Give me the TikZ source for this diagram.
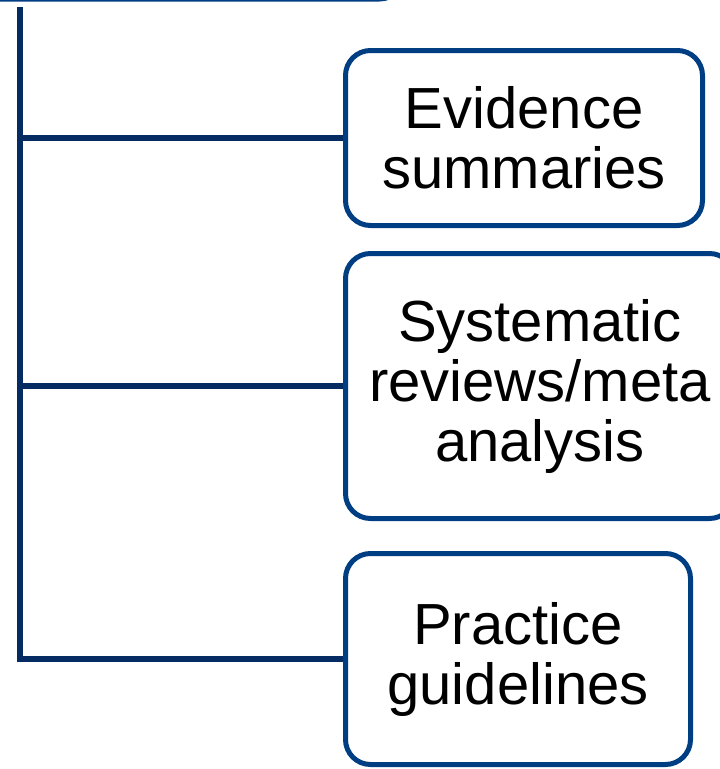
\documentclass[tikz,border=0pt]{standalone}
\usepackage{fontspec}
\setmainfont{Liberation Sans}
\definecolor{navy}{RGB}{0,62,132}
\definecolor{darknavy}{RGB}{4,44,98}
\begin{document}
\begin{tikzpicture}[x=1pt,y=-1pt,
  box/.style={draw=navy, line width=5pt, rounded corners=25pt, fill=white, inner sep=0pt,
    font=\fontsize{58}{60}\selectfont, align=center, text=black},
  conn/.style={draw=darknavy, line width=6pt}]
\useasboundingbox (0,0) rectangle (720,769);
\node[box, minimum width=462pt, minimum height=200pt, anchor=south west] (top) at (-60,1.5) {};
\node[box, minimum width=357pt, minimum height=175pt] (b1) at (524,138) {Evidence\\summaries};
\node[box, minimum width=389pt, minimum height=265pt] (b2) at (540,386) {Systematic\\reviews/meta\\analysis};
\node[box, minimum width=345pt, minimum height=211pt] (b3) at (518,659) {Practice\\guidelines};
\coordinate (trunk) at (20,7);
\draw[conn] (trunk) |- (b3.west);
\draw[conn] (trunk |- b1.west) -- (b1.west);
\draw[conn] (trunk |- b2.west) -- (b2.west);
\end{tikzpicture}
\end{document}
